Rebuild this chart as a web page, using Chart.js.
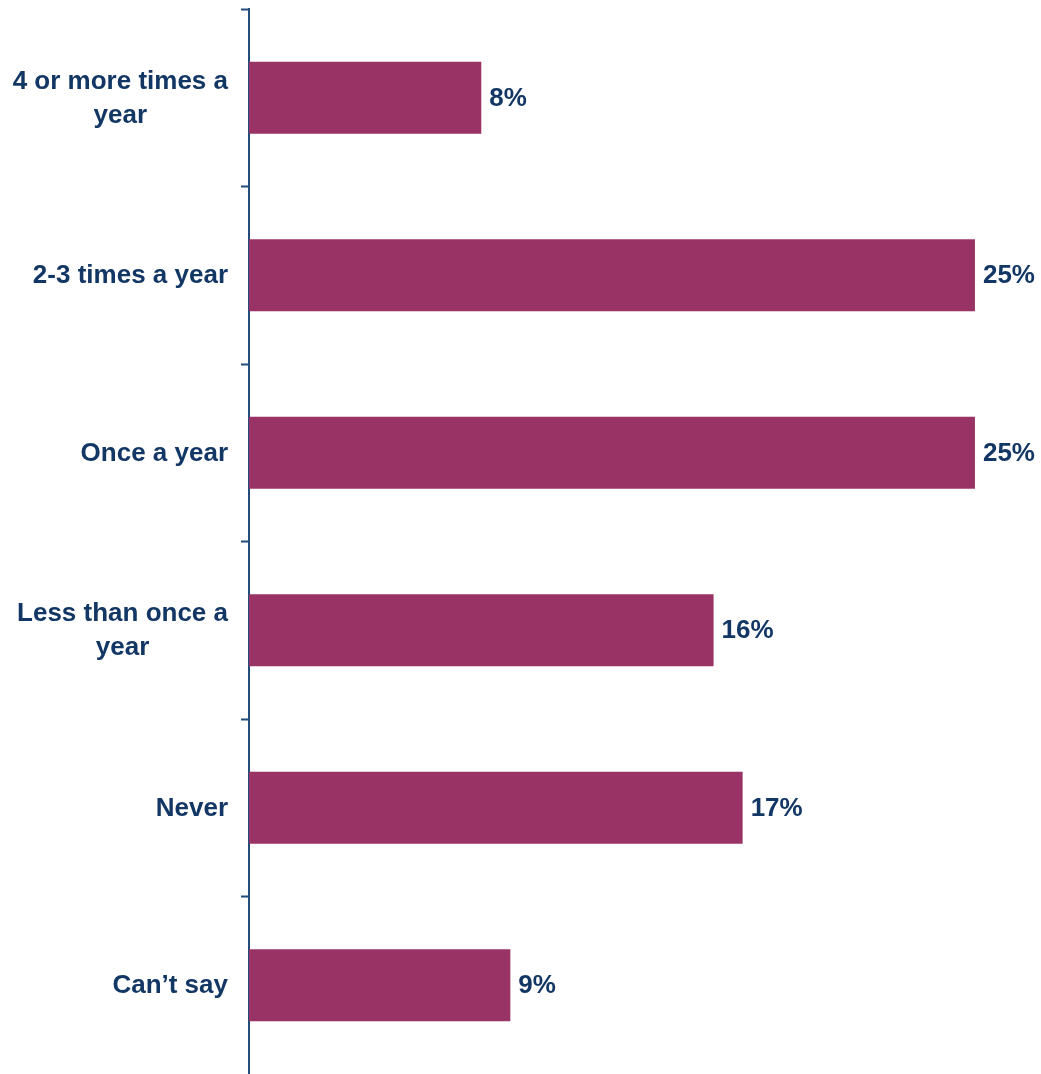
<!DOCTYPE html>
<html>
<head>
<meta charset="utf-8">
<script src="https://cdn.jsdelivr.net/npm/chart.js@4"></script>
<style>
  html, body { margin: 0; padding: 0; background: #fff; }
  #wrap { width: 1041px; height: 1074px; position: relative; }
</style>
</head>
<body>
<div id="wrap"><canvas id="graph1"></canvas></div>
<script>
// answers, top to bottom (arrays = two-line labels)
var categories = [['4 or more times a', 'year'], '2-3 times a year', 'Once a year', ['Less than once a', 'year'], 'Never', 'Can\u2019t say'];
var shares = [8, 25, 25, 16, 17, 9];

var navy = '#133764';
var axisBlue = '#234c7c';
var barColor = '#993366';
var fontFamily = '"Liberation Sans", Arial, sans-serif';

// category names drawn by hand so the second line sits centred under the first
var categoryLabels = {
    id: 'categoryLabels',
    afterDraw: function (chart) {
        var ctx = chart.ctx;
        var yScale = chart.scales.y;
        var right = yScale.right - 21;
        ctx.save();
        ctx.font = 'bold 26px ' + fontFamily;
        ctx.fillStyle = navy;
        ctx.textAlign = 'center';
        ctx.textBaseline = 'middle';
        categories.forEach(function (label, i) {
            var lines = Array.isArray(label) ? label : [label];
            var widest = Math.max.apply(null, lines.map(function (l) { return ctx.measureText(l).width; }));
            var cx = right - widest / 2;
            var y0 = yScale.getPixelForValue(i) + 1 - (lines.length - 1) * 17;
            lines.forEach(function (l, k) {
                ctx.fillText(l, cx, y0 + k * 34);
            });
        });
        ctx.restore();
    }
};

// percentage at the end of each bar
var valueLabels = {
    id: 'valueLabels',
    afterDatasetsDraw: function (chart) {
        var ctx = chart.ctx;
        ctx.save();
        ctx.font = 'bold 26px ' + fontFamily;
        ctx.fillStyle = navy;
        ctx.textAlign = 'left';
        ctx.textBaseline = 'middle';
        chart.getDatasetMeta(0).data.forEach(function (bar, i) {
            ctx.fillText(shares[i] + '%', bar.x + 8, bar.y + 1);
        });
        ctx.restore();
    }
};

var ctx = document.getElementById('graph1').getContext('2d');

var config = {
    type: 'bar',
    data: {
        labels: categories,
        datasets: [{
            data: shares,
            backgroundColor: barColor,
            borderWidth: 0,
            barPercentage: 0.405,
            categoryPercentage: 1
        }]
    },
    options: {
        indexAxis: 'y',
        responsive: true,
        maintainAspectRatio: false,
        animation: false,
        layout: { padding: { top: 9, right: 8, bottom: 0, left: 0 } },
        plugins: {
            legend: { display: false },
            tooltip: { enabled: false }
        },
        scales: {
            x: {
                display: false,
                min: 0,
                max: 27
            },
            y: {
                z: 1,
                grid: {
                    drawOnChartArea: false,
                    drawTicks: true,
                    tickLength: 8,
                    tickWidth: 2,
                    // no tick on the closing line at the bottom
                    tickColor: function (c) {
                        return c.index === undefined ? 'rgba(0,0,0,0)' : axisBlue;
                    }
                },
                border: { display: true, color: axisBlue, width: 2 },
                ticks: { display: false },
                afterFit: function (scale) {
                    scale.width = 249;
                }
            }
        }
    },
    plugins: [categoryLabels, valueLabels]
};

var graph1 = new Chart(ctx, config);
</script>
</body>
</html>
